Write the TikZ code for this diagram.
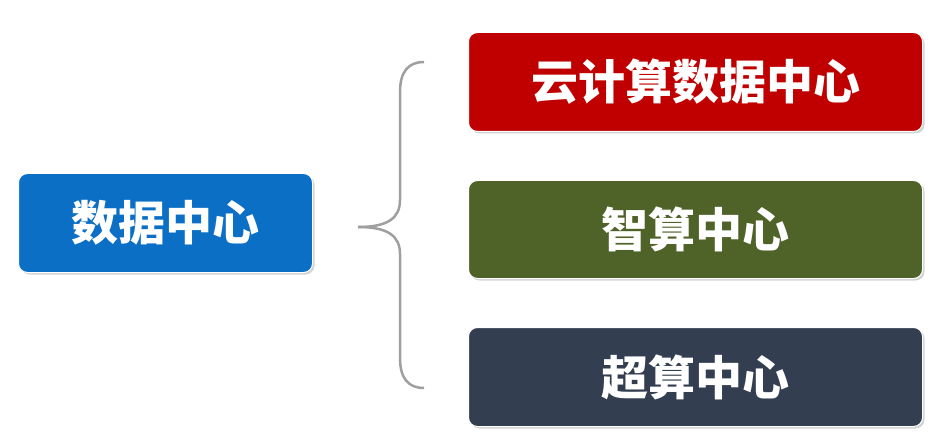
\documentclass[tikz,border=0pt]{standalone}
\usepackage{fontspec}
\newfontfamily\cjk{Noto Sans CJK SC}
\usetikzlibrary{shadows}
\definecolor{cblue}{HTML}{0B6FC6}
\definecolor{cred}{HTML}{C00000}
\definecolor{cgreen}{HTML}{4F6228}
\definecolor{cslate}{HTML}{333F50}
\tikzset{box/.style={rounded corners=9pt, draw=white, line width=1pt, text=white, font=\cjk\bfseries\fontsize{47}{52}\selectfont, anchor=north west, inner sep=0pt,
  drop shadow={opacity=0.35, shadow xshift=2pt, shadow yshift=-2pt}},
  bracestyle/.style={draw=gray!75, line width=2.5pt}}
\begin{document}
\begin{tikzpicture}[x=1pt,y=-1pt]
\useasboundingbox (0,0) rectangle (949,446);
\node[box, fill=cblue, minimum width=294pt, minimum height=99pt] (dc) at (18,173) {数据中心};
\node[box, fill=cred, minimum width=454pt, minimum height=99pt] (a) at (468,32) {云计算数据中心};
\node[box, fill=cgreen, minimum width=454pt, minimum height=98pt] (b) at (468,180) {智算中心};
\node[box, fill=cslate, minimum width=454pt, minimum height=99pt] (c) at (468,327) {超算中心};
\coordinate (m) at (358,227);
\coordinate (t) at (424,62);
\coordinate (u) at (424,388);
\draw[bracestyle] (t) .. controls (408,62) and (400,72) .. (400,92) -- (400,200) .. controls (400,218) and (388,227) .. (m);
\draw[bracestyle] (u) .. controls (408,388) and (400,378) .. (400,358) -- (400,254) .. controls (400,236) and (388,227) .. (m);
\end{tikzpicture}
\end{document}
